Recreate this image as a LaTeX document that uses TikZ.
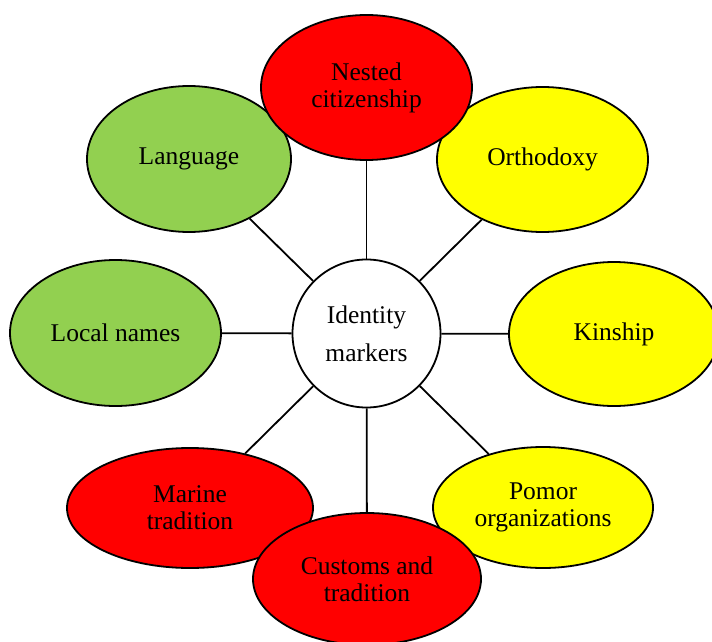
\documentclass[tikz,border=0pt]{standalone}
\usepackage{fontspec}
\setmainfont{Liberation Serif}
\usetikzlibrary{shapes.geometric}
\definecolor{mgreen}{HTML}{92D050}
\definecolor{mred}{HTML}{FF0000}
\definecolor{myellow}{HTML}{FFFF00}
\tikzset{
  blob/.style={ellipse, draw=black, line width=1.8pt, inner sep=0pt, align=center,
    font=\fontsize{25.5}{27}\selectfont},
  hub/.style={circle, draw=black, fill=white, line width=1.8pt, inner sep=0pt, align=center,
    minimum size=148pt, font=\fontsize{25.5}{27}\selectfont},
  link/.style={draw=black, line width=1.8pt}
}
\begin{document}
\begin{tikzpicture}[x=1pt,y=-1pt]
\useasboundingbox (0,0) rectangle (712,642);
\clip (0,0) rectangle (712,642);
\node[hub] (c) at (366.5,333.5) {Identity\\[11pt]markers};
\node[blob, fill=mgreen, minimum width=204pt, minimum height=146pt] (lang) at (189,159) {Language};
\node[blob, fill=myellow, minimum width=211pt, minimum height=145pt] (orth) at (542.5,159.5) {Orthodoxy};
\node[blob, fill=mred, minimum width=211pt, minimum height=145pt] (nest) at (366.5,87.5) {Nested\\citizenship};
\node[blob, fill=mgreen, minimum width=211pt, minimum height=146pt] (local) at (115.5,333) {Local names};
\node[blob, fill=myellow, minimum width=210pt, minimum height=144pt] (kin) at (614,334) {Kinship};
\node[blob, fill=mred, minimum width=246pt, minimum height=120pt] (marine) at (190,508) {Marine\\tradition};
\node[blob, fill=myellow, minimum width=220pt, minimum height=121pt] (pomor) at (543,507.5) {Pomor\\organizations};
\node[blob, fill=mred, minimum width=228pt, minimum height=132pt] (cust) at (367,579) {Customs and\\tradition};
\draw[link] (c) -- (nest);
\draw[link] (c) -- (lang);
\draw[link] (c) -- (orth);
\draw[link] (c) -- (local);
\draw[link] (c) -- (kin);
\draw[link] (c) -- (marine);
\draw[link] (c) -- (cust);
\draw[link] (c) -- (pomor);
\end{tikzpicture}
\end{document}
